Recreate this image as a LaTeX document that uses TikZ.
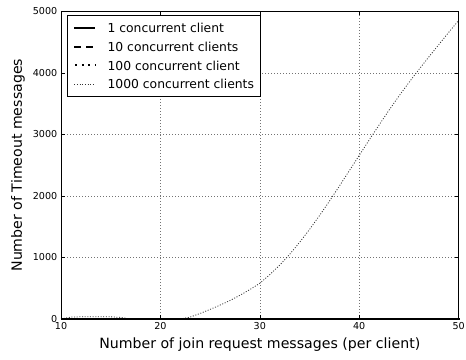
\documentclass[tikz,border=0pt]{standalone}
\usepackage{fontspec}
\setmainfont{DejaVu Sans}
\usepackage{tikz}
\usetikzlibrary{calc}
\usetikzlibrary{positioning}

\begin{document}
\begin{tikzpicture}[x=9.94bp,y=0.0615bp,semithick]
	\tikzstyle{frame}=[draw=black, line width=0.9bp]
	\tikzstyle{gridline}=[draw=black!55, line width=0.5bp, dash pattern=on 1bp off 2bp]
	\tikzstyle{tick}=[draw=black, line width=0.6bp]
	\tikzstyle{ticklabel}=[font=\fontsize{9.6}{11}\selectfont, inner sep=0pt]
	\tikzstyle{axislabel}=[font=\fontsize{14.2}{16}\selectfont, inner sep=0pt]
	\tikzstyle{legtext}=[font=\fontsize{12.4}{14}\selectfont, inner sep=0pt, anchor=west]
	\tikzstyle{one}=[line width=2bp]
	\tikzstyle{ten}=[line width=2bp, dash pattern=on 7bp off 5bp]
	\tikzstyle{hundred}=[line width=2bp, dash pattern=on 2bp off 4.5bp, dash phase=-1bp]
	\tikzstyle{thousand}=[draw=black!80, line width=0.8bp, dash pattern=on 1bp off 1.65bp]

	\useasboundingbox (3.863,-666.7) rectangle (50.744,5187);

	\coordinate (O) at (10,0);
	\coordinate (X) at (50,0);
	\coordinate (Y) at (10,5000);
	\coordinate (XY) at (50,5000);

	% grid
	\foreach \gx in {20,30,40}
		\draw[gridline] (\gx,0) -- (\gx,5000);
	\foreach \gy in {1000,2000,3000,4000}
		\draw[gridline] (10,\gy) -- (50,\gy);

	% data
	\draw[thousand] plot coordinates {(10,0) (11,30) (12,35) (13,35) (14,35) (15,35) (16,25) (17,0) (18,0) (19,0) (20,0) (21,0) (22,0)
		(23,30) (24,90) (25,155) (26,225) (27,300) (28,385) (29,478) (30,580) (31,720) (32,875) (33,1050) (34,1245) (35,1455)
		(36,1680) (37,1915) (38,2160) (39,2410) (40,2660) (41,2910) (42,3155) (43,3395) (44,3625) (45,3845) (46,4055)
		(47,4260) (48,4460) (49,4660) (50,4855)};
	\draw[hundred] (O) -- (X);
	\draw[ten] (O) -- (X);
	\draw[one] (O) -- (X);

	\draw[frame] (O) rectangle (XY);

	% ticks and labels
	\foreach \tx in {10,20,30,40,50} {
		\draw[tick] (\tx,0) -- ++(0,4bp);
		\draw[tick] (\tx,5000) -- ++(0,-4bp);
		\node[ticklabel, anchor=north, yshift=-3.5bp] (xt\tx) at (\tx,0) {\tx};
	}
	\foreach \ty in {0,1000,2000,3000,4000,5000} {
		\draw[tick] (10,\ty) -- ++(4bp,0);
		\draw[tick] (50,\ty) -- ++(-4bp,0);
		\node[ticklabel, anchor=east, xshift=-3.5bp] (yt\ty) at (10,\ty) {\ty};
	}

	\node[axislabel, anchor=north, yshift=-18.5bp] (xlab) at (30,0) {Number of join request messages (per client)};
	\node[axislabel, rotate=90] (ylab) at (5.674,2500) {Number of Timeout messages};

	% legend
	\coordinate (leg) at (10.674,4943);
	\coordinate (legend end) at (30.02,3626);
	\draw[fill=white, line width=0.8bp] (leg) rectangle (legend end);
	\node[legtext] (t1) at ([xshift=39.6bp, yshift=-13bp]leg) {1 concurrent client};
	\node[legtext] (t2) at ([yshift=-18.7bp]t1.west) {10 concurrent clients};
	\node[legtext] (t3) at ([yshift=-18.7bp]t2.west) {100 concurrent client};
	\node[legtext] (t4) at ([yshift=-18.7bp]t3.west) {1000 concurrent clients};
	\draw[one] ([xshift=-33bp]t1.west) -- ([xshift=-12bp]t1.west);
	\draw[ten] ([xshift=-33bp]t2.west) -- ([xshift=-12bp]t2.west);
	\draw[hundred] ([xshift=-33bp]t3.west) -- ([xshift=-12bp]t3.west);
	\draw[thousand] ([xshift=-33bp]t4.west) -- ([xshift=-12bp]t4.west);
\end{tikzpicture}
\end{document}
